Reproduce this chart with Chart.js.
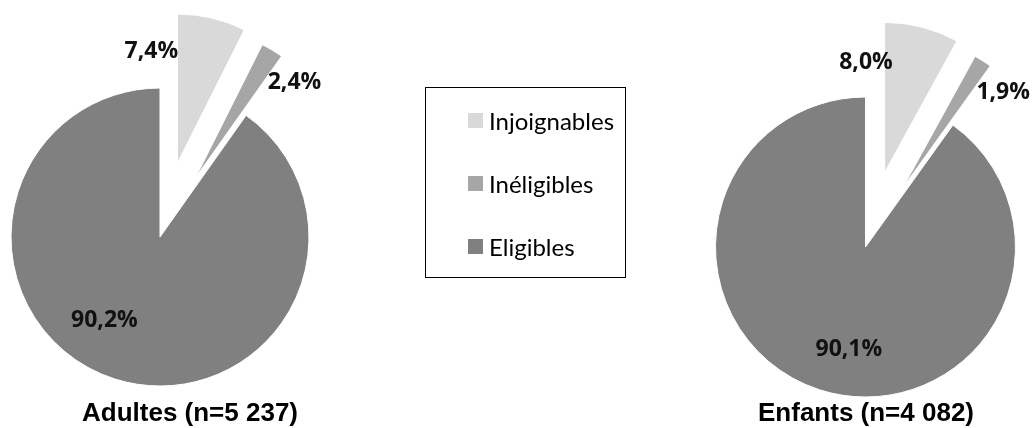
<!DOCTYPE html>
<html>
<head>
<meta charset="utf-8">
<script src="https://cdn.jsdelivr.net/npm/chart.js@4.4.1/dist/chart.umd.min.js"></script>
<style>
  html, body { margin: 0; padding: 0; background: #ffffff; }
  #wrap { position: relative; width: 1034px; height: 428px; overflow: hidden; background: #ffffff; }
  #wrap canvas { position: absolute; left: 0; top: 0; }
  #legend { position: absolute; left: 425px; top: 87px; width: 199px; height: 189px;
            border: 1px solid #000; font-family: Lato, "Open Sans", sans-serif; font-size: 24px; color: #000; }
  #legend .item { position: absolute; left: 42px; height: 30px; display: flex; align-items: center; white-space: nowrap; }
  #legend .sw { width: 15px; height: 15px; margin-right: 6px; flex: none; }
</style>
</head>
<body>
<div id="wrap">
  <canvas id="adults" width="1034" height="428"></canvas>
  <canvas id="children" width="1034" height="428"></canvas>
  <div id="legend"></div>
</div>
<script>
// ---- Data ----
const categories = ['Injoignables', 'Inéligibles', 'Eligibles'];
const adultsValues = [7.4, 2.4, 90.2];
const childrenValues = [8.0, 1.9, 90.1];
const adultsTitle = 'Adultes (n=5 237)';
const childrenTitle = 'Enfants (n=4 082)';

// ---- Style ----
const sliceColors = ['#d9d9d9', '#a6a6a6', '#808080'];

const fmtPct = v => v.toFixed(1).replace('.', ',') + '%';

// Pull the chosen slices out along their bisector (like Excel "explosion")
const explodePlugin = {
  id: 'explode',
  afterDatasetUpdate(chart, args, opts) {
    const dist = opts.distances || [];
    args.meta.data.forEach((arc, i) => {
      const d = dist[i] || 0;
      if (!d) return;
      const mid = (arc.startAngle + arc.endAngle) / 2;
      arc.x += Math.cos(mid) * d;
      arc.y += Math.sin(mid) * d;
    });
  }
};

// Percentage labels and the chart caption
const labelPlugin = {
  id: 'sliceLabels',
  afterDatasetsDraw(chart, args, opts) {
    const meta = chart.getDatasetMeta(0);
    const data = chart.data.datasets[0].data;
    const ctx = chart.ctx;
    ctx.save();
    ctx.fillStyle = opts.color;
    ctx.textAlign = 'center';
    ctx.textBaseline = 'alphabetic';
    ctx.font = 'bold ' + opts.size + 'px ' + opts.family;
    meta.data.forEach((arc, i) => {
      const p = opts.placement[i];
      const a = p.angle * Math.PI / 180;
      const x = arc.x + Math.sin(a) * p.dist * arc.outerRadius;
      const y = arc.y - Math.cos(a) * p.dist * arc.outerRadius;
      ctx.fillText(fmtPct(data[i]), x, y + opts.size * 0.35);
    });
    const base = meta.data[meta.data.length - 1];
    ctx.font = 'bold ' + opts.titleSize + 'px "Liberation Sans", Arial, sans-serif';
    ctx.fillStyle = '#000';
    ctx.fillText(opts.title, base.x + opts.titleDx, opts.titleY);
    ctx.restore();
  }
};

function makePie(id, values, title, radius, padding, explodeDists, placement, titleDx) {
  return new Chart(document.getElementById(id), {
    type: 'pie',
    data: {
      labels: categories,
      datasets: [{
        data: values,
        backgroundColor: sliceColors,
        borderColor: '#ffffff',
        borderWidth: 1,
        radius: radius,
        clip: false
      }]
    },
    options: {
      responsive: false,
      animation: false,
      events: [],
      layout: { padding: padding },
      plugins: {
        legend: { display: false },
        tooltip: { enabled: false },
        title: { display: false },
        explode: { distances: explodeDists },
        sliceLabels: {
          placement: placement,
          size: 23,
          family: '"Open Sans", Lato, sans-serif',
          color: '#111',
          title: title,
          titleSize: 26,
          titleDx: titleDx,
          titleY: 421
        }
      }
    },
    plugins: [explodePlugin, labelPlugin]
  });
}

makePie('adults', adultsValues, adultsTitle, 149,
  { left: 0, right: 714, top: 46, bottom: 0 }, [76, 69, 0],
  [ { dist: 0.78, angle: -13 }, { dist: 0.93, angle: 45.6 }, { dist: 0.667, angle: 214 } ], 30);

makePie('children', childrenValues, childrenTitle, 150,
  { left: 697, right: 0, top: 66, bottom: 0 }, [77, 70, 0],
  [ { dist: 0.753, angle: -9.5 }, { dist: 0.93, angle: 46 }, { dist: 0.68, angle: 189.4 } ], 0.5);

// HTML legend box
const legendEl = document.getElementById('legend');
const itemTops = [17, 80, 143];
categories.forEach((c, i) => {
  const it = document.createElement('div');
  it.className = 'item';
  it.style.top = itemTops[i] + 'px';
  const sw = document.createElement('span');
  sw.className = 'sw';
  sw.style.background = sliceColors[i];
  const tx = document.createElement('span');
  tx.textContent = c;
  it.appendChild(sw);
  it.appendChild(tx);
  legendEl.appendChild(it);
});
</script>
</body>
</html>
